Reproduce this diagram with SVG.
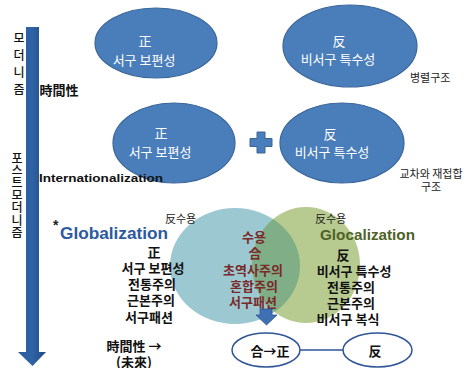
<svg xmlns="http://www.w3.org/2000/svg" width="475" height="368" viewBox="0 0 475 368">
  <defs>
    <style>
      .blob { fill: #4A7EBB; stroke: #3A6599; stroke-width: 1.2; }
      .wt { fill: #FFFFFF; font-family: "Noto Sans CJK KR", "Liberation Sans", sans-serif; font-size: 13px; text-anchor: middle; }
      .bk { fill: #111111; font-family: "Noto Sans CJK KR", "Liberation Sans", sans-serif; font-size: 13px; font-weight: bold; text-anchor: middle; }
      .rd { fill: #7A2A2A; font-family: "Noto Sans CJK KR", "Liberation Sans", sans-serif; font-size: 13px; font-weight: bold; text-anchor: middle; }
      .sm { fill: #222222; font-family: "Noto Sans CJK KR", "Liberation Sans", sans-serif; font-size: 11px; }
      .vt { fill: #111111; font-family: "Noto Sans CJK KR", "Liberation Sans", sans-serif; font-size: 12px; font-weight: 500; writing-mode: vertical-rl; text-orientation: upright; }
      .lat { font-family: "Liberation Sans", Arial, sans-serif; font-weight: bold; }
      .ring { fill: #FFFFFF; stroke: #2F5597; stroke-width: 1.5; }
    </style>
    <linearGradient id="shaft" x1="0" y1="0" x2="1" y2="0">
      <stop offset="0" stop-color="#2A5A9A"/>
      <stop offset="0.5" stop-color="#2F63A6"/>
      <stop offset="1" stop-color="#1F4A85"/>
    </linearGradient>
    <clipPath id="leftDisc">
      <ellipse cx="235" cy="266" rx="65" ry="58"/>
    </clipPath>
  </defs>

  <!-- time axis -->
  <g id="time-axis">
    <polygon points="26,27 39,27 39,352 46,352 32.5,366 18,352 26,352" fill="url(#shaft)"/>
    <text class="vt" x="19" y="32" letter-spacing="5">모더니즘</text>
    <text class="vt" x="17" y="152" letter-spacing="0.4">포스트모더니즘</text>
    <text class="bk" x="59" y="95">時間性</text>
  </g>

  <!-- parallel structure -->
  <g id="thesis-top">
    <ellipse class="blob" cx="156" cy="43" rx="61" ry="35"/>
    <text class="wt" x="145" y="46">正</text>
    <text class="wt" x="144" y="65">서구 보편성</text>
  </g>
  <g id="antithesis-top">
    <ellipse class="blob" cx="350" cy="46" rx="67" ry="41"/>
    <text class="wt" x="339" y="46">反</text>
    <text class="wt" x="338" y="64">비서구 특수성</text>
  </g>
  <text class="sm" x="410" y="82" font-size="11.5">병렬구조</text>

  <!-- crossing structure -->
  <g id="thesis-mid">
    <ellipse class="blob" cx="174" cy="143" rx="61" ry="40"/>
    <text class="wt" x="161" y="138">正</text>
    <text class="wt" x="160" y="157">서구 보편성</text>
  </g>
  <g id="plus">
    <path d="M257,132 h8 v6.5 h7 v8 h-7 v6.5 h-8 v-6.5 h-7 v-8 h7 z" fill="#4A7EBB" stroke="#3A6599" stroke-width="1"/>
  </g>
  <g id="antithesis-mid">
    <ellipse class="blob" cx="342" cy="143" rx="62" ry="40"/>
    <text class="wt" x="330" y="139">反</text>
    <text class="wt" x="332" y="157">비서구 특수성</text>
  </g>
  <text class="lat" x="39" y="182" font-size="11.5" fill="#111111" textLength="124" lengthAdjust="spacingAndGlyphs">Internationalization</text>
  <text class="sm" x="431" y="178" font-size="11.5" text-anchor="middle">교차와 재접합</text>
  <text class="sm" x="431" y="191" font-size="11.5" text-anchor="middle">구조</text>

  <!-- globalization / glocalization -->
  <g id="globalization">
    <ellipse cx="235" cy="266" rx="65" ry="58" fill="#9CC8D2"/>
    <text class="lat" x="53" y="230" font-size="14" font-weight="normal" fill="#222222">*</text>
    <text class="lat" x="60" y="239" font-size="16.5" fill="#2B5A9E" textLength="108" lengthAdjust="spacingAndGlyphs">Globalization</text>
    <text class="sm" x="165" y="223">反수용</text>
    <text class="bk" x="154" y="257">正</text>
    <text class="bk" x="153" y="273">서구 보편성</text>
    <text class="bk" x="152" y="289">전통주의</text>
    <text class="bk" x="151" y="305">근본주의</text>
    <text class="bk" x="149" y="322">서구패션</text>
  </g>
  <g id="glocalization">
    <ellipse cx="306" cy="265" rx="54" ry="58" fill="#B7CB91"/>
    <ellipse cx="306" cy="265" rx="54" ry="58" fill="#80AE86" clip-path="url(#leftDisc)"/>
    <text class="sm" x="315" y="223">反수용</text>
    <text class="lat" x="320" y="240" font-size="14.5" fill="#4F6228" textLength="95" lengthAdjust="spacingAndGlyphs">Glocalization</text>
    <text class="bk" x="343" y="260">反</text>
    <text class="bk" x="354" y="276">비서구 특수성</text>
    <text class="bk" x="351" y="292">전통주의</text>
    <text class="bk" x="351" y="308">근본주의</text>
    <text class="bk" x="348" y="324">비서구 복식</text>
  </g>
  <g id="synthesis">
    <text class="rd" x="254" y="242">수용</text>
    <text class="rd" x="255" y="258">合</text>
    <text class="rd" x="253" y="275">초역사주의</text>
    <text class="rd" x="254" y="291">혼합주의</text>
    <text class="rd" x="253" y="307">서구패션</text>
  </g>

  <!-- future -->
  <g id="future-label">
    <text class="bk" x="134" y="351" text-anchor="start">時間性 →</text>
    <text class="bk" x="134" y="367" text-anchor="start">(未來)</text>
  </g>
  <g id="synthesis-thesis">
    <ellipse class="ring" cx="266" cy="350" rx="34" ry="17"/>
    <text class="bk" x="270" y="356" font-weight="normal">合→正</text>
  </g>
  <g id="antithesis-future">
    <ellipse class="ring" cx="377.5" cy="350" rx="34.5" ry="17"/>
    <text class="bk" x="375" y="356" font-weight="normal">反</text>
  </g>

  <g id="connectors">
    <line x1="300" y1="350" x2="343" y2="350" stroke="#2F5597" stroke-width="1.5"/>
    <polygon points="260,309 272,309 272,315 277,315 266.5,325 256,315 260,315" fill="#3E70B2" stroke="#2F5597" stroke-width="0.8"/>
  </g>
</svg>
